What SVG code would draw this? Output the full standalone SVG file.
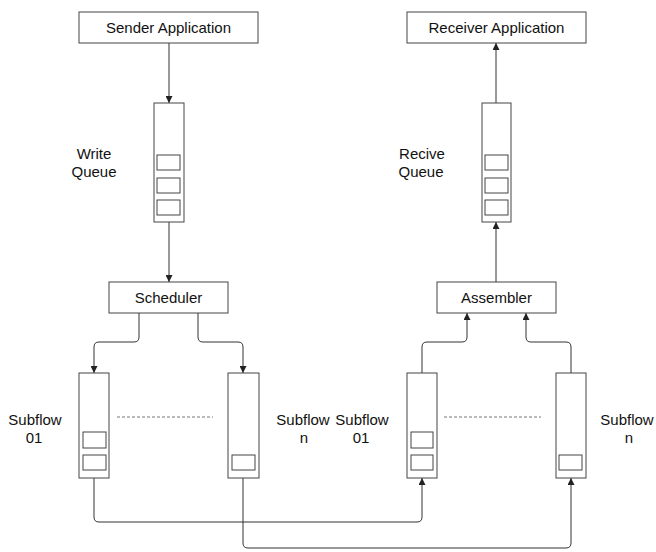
<svg xmlns="http://www.w3.org/2000/svg" width="656" height="552" viewBox="0 0 656 552">
<style>
.box{fill:#fff;stroke:#444;stroke-width:1}
.cell{fill:#fff;stroke:#444;stroke-width:1}
.t{font-family:"Liberation Sans",Arial,sans-serif;font-size:15px;fill:#111;text-anchor:middle}
.c{fill:none;stroke:#333;stroke-width:1}
.d{fill:none;stroke:#777;stroke-width:1;stroke-dasharray:3,2}
</style>
<defs>
<marker id="ah" viewBox="0 0 10 10" refX="10" refY="5" markerWidth="7" markerHeight="7" orient="auto" markerUnits="userSpaceOnUse">
<path d="M0,0 L10,5 L0,10 z" fill="#222"/>
</marker>
</defs>
<rect width="656" height="552" fill="#fff"/>
<g id="connectors">
<path class="c" d="M169,43 V103" marker-end="url(#ah)"/>
<path class="c" d="M169,222 V282" marker-end="url(#ah)"/>
<path class="c" d="M139,313 V337 Q139,342 134,342 H99 Q94,342 94,347 V373" marker-end="url(#ah)"/>
<path class="c" d="M198,313 V337 Q198,342 203,342 H238 Q243,342 243,347 V373" marker-end="url(#ah)"/>
<path class="c" d="M94,478 V517 Q94,522 99,522 H417 Q422,522 422,517 V478" marker-end="url(#ah)"/>
<path class="c" d="M243,478 V543 Q243,548 248,548 H566 Q571,548 571,543 V478" marker-end="url(#ah)"/>
<path class="c" d="M422,373 V347 Q422,342 427,342 H462 Q467,342 467,337 V313" marker-end="url(#ah)"/>
<path class="c" d="M571,373 V347 Q571,342 566,342 H531 Q526,342 526,337 V313" marker-end="url(#ah)"/>
<path class="c" d="M496,282 V222" marker-end="url(#ah)"/>
<path class="c" d="M496,103 V43" marker-end="url(#ah)"/>
<path class="d" d="M117,417 H213"/>
<path class="d" d="M444,417 H541"/>
</g>
<g id="sender-app">
<rect class="box" x="79" y="12" width="179" height="31"/>
<text class="t" x="168.5" y="33">Sender Application</text>
</g>
<g id="receiver-app">
<rect class="box" x="407" y="12" width="179" height="31"/>
<text class="t" x="496.5" y="33">Receiver Application</text>
</g>
<g id="write-queue">
<rect class="box" x="154" y="103" width="30" height="119"/>
<rect class="cell" x="157" y="155" width="23" height="15"/>
<rect class="cell" x="157" y="178" width="23" height="15"/>
<rect class="cell" x="157" y="200" width="23" height="15"/>
<text class="t" x="94" y="159">Write</text>
<text class="t" x="94" y="177">Queue</text>
</g>
<g id="recive-queue">
<rect class="box" x="482" y="103" width="29" height="119"/>
<rect class="cell" x="485" y="155" width="23" height="15"/>
<rect class="cell" x="485" y="178" width="23" height="15"/>
<rect class="cell" x="485" y="200" width="23" height="15"/>
<text class="t" x="422" y="159">Recive</text>
<text class="t" x="421" y="177">Queue</text>
</g>
<g id="scheduler">
<rect class="box" x="109" y="282" width="119" height="31"/>
<text class="t" x="168.5" y="303">Scheduler</text>
</g>
<g id="assembler">
<rect class="box" x="437" y="282" width="119" height="31"/>
<text class="t" x="496.5" y="303">Assembler</text>
</g>
<g id="send-subflow-01">
<rect class="box" x="79" y="373" width="30" height="105"/>
<rect class="cell" x="83" y="432" width="23" height="16"/>
<rect class="cell" x="83" y="455" width="23" height="15"/>
<text class="t" x="35" y="425">Subflow</text>
<text class="t" x="34" y="443">01</text>
</g>
<g id="send-subflow-n">
<rect class="box" x="228" y="373" width="31" height="105"/>
<rect class="cell" x="232" y="455" width="23" height="15"/>
<text class="t" x="303" y="425">Subflow</text>
<text class="t" x="304" y="443">n</text>
</g>
<g id="recv-subflow-01">
<rect class="box" x="407" y="373" width="30" height="105"/>
<rect class="cell" x="411" y="432" width="22" height="16"/>
<rect class="cell" x="411" y="455" width="22" height="15"/>
<text class="t" x="362" y="425">Subflow</text>
<text class="t" x="361" y="443">01</text>
</g>
<g id="recv-subflow-n">
<rect class="box" x="556" y="373" width="30" height="105"/>
<rect class="cell" x="559" y="455" width="23" height="15"/>
<text class="t" x="627" y="425">Subflow</text>
<text class="t" x="629" y="443">n</text>
</g>
</svg>
